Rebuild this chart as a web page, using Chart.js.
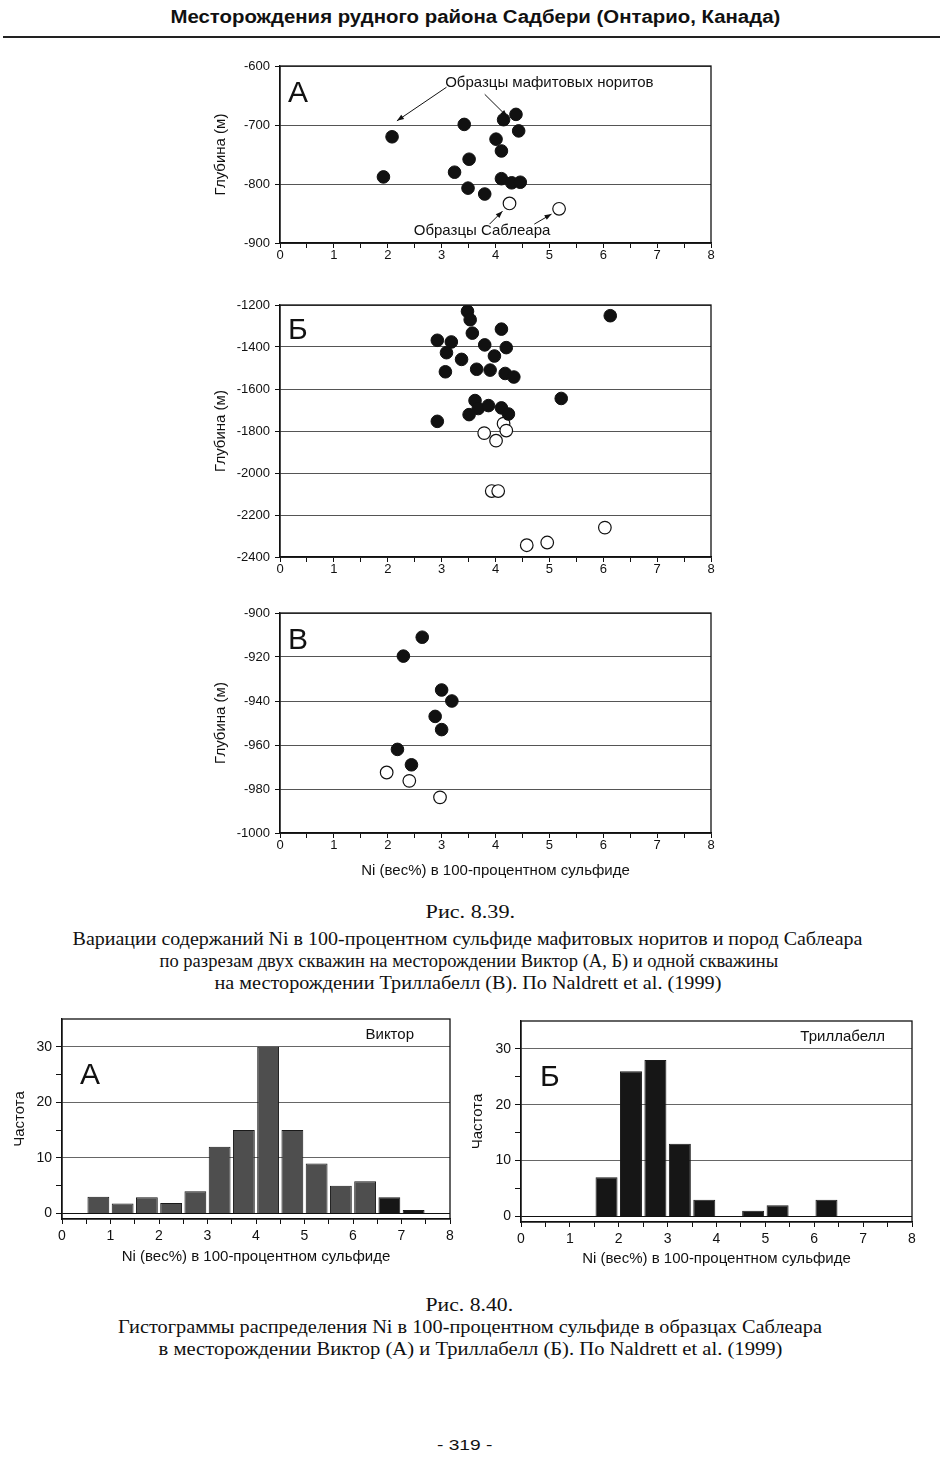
<!DOCTYPE html>
<html>
<head>
<meta charset="utf-8">
<script src="https://cdn.jsdelivr.net/npm/chart.js@4"></script>
<style>
  body { margin: 0; width: 943px; height: 1460px; position: relative; background: #fff; overflow: hidden; }
  canvas { position: absolute; }
  .t { position: absolute; white-space: nowrap; color: #111; transform-origin: center center; line-height: 1.2; }
  .rule { position: absolute; left: 3px; width: 937px; top: 36px; height: 2px; background: #222; }
</style>
</head>
<body>
<div class="rule"></div>
<script>
// Рис. 8.39 А: Виктор, скважина 1 (Ni вес%, глубина м)
const vicA_noritNi = [2.08, 1.92, 3.42, 3.24, 3.51, 3.49, 3.80, 4.01, 4.11, 4.15, 4.38, 4.43, 4.11, 4.30, 4.46];
const vicA_noritDepth = [-720, -788, -699, -780, -758, -807, -817, -724, -744, -691, -682, -710, -791, -798, -797];
const vicA_sablNi = [4.26, 5.18];
const vicA_sablDepth = [-833, -842];

// Рис. 8.39 Б: Виктор, скважина 2
const vicB_noritNi = [3.48, 3.53, 3.57, 6.13, 2.92, 3.18, 3.09, 4.11, 3.80, 4.20, 3.98, 3.37, 3.07, 3.65, 3.90, 4.18, 4.34, 5.22, 3.62, 3.68, 3.87, 4.11, 4.24, 3.51, 2.92];
const vicB_noritDepth = [-1230, -1270, -1334, -1251, -1368, -1376, -1427, -1315, -1390, -1403, -1443, -1459, -1518, -1506, -1510, -1526, -1543, -1645, -1655, -1693, -1679, -1690, -1719, -1722, -1754];
const vicB_sablNi = [4.15, 4.20, 3.79, 4.01, 3.93, 4.05, 6.03, 4.96, 4.58];
const vicB_sablDepth = [-1765, -1798, -1810, -1846, -2086, -2086, -2260, -2331, -2344];

// Рис. 8.39 В: Триллабелл
const tri_noritNi = [2.64, 2.29, 3.00, 3.19, 2.88, 3.00, 2.18, 2.44];
const tri_noritDepth = [-911, -919.6, -935, -940, -947, -953, -962, -969];
const tri_sablNi = [1.98, 2.40, 2.97];
const tri_sablDepth = [-972.5, -976.3, -983.8];

// Рис. 8.40: гистограммы, интервалы по 0.5 вес%
const binCenters = [0.75, 1.25, 1.75, 2.25, 2.75, 3.25, 3.75, 4.25, 4.75, 5.25, 5.75, 6.25, 6.75, 7.25];
const victorFreq = [3, 1.8, 2.9, 1.9, 4, 12, 15, 30, 15, 9, 5, 5.8, 2.9, 0.6];
const trillFreq = [0, 0, 7, 26, 28, 13, 3, 0, 1, 2, 0, 3, 0, 0];

const FONT = '"Liberation Sans", Arial, sans-serif';
const SERIF = '18px "Liberation Serif", "Times New Roman", serif';
Chart.defaults.font.family = FONT;
Chart.defaults.color = '#111';
Chart.defaults.animation = false;
Chart.defaults.plugins.legend.display = false;
Chart.defaults.plugins.tooltip.enabled = false;

const pts = (xs, ys) => xs.map((x, i) => ({ x: x, y: ys[i] }));

// text lines of the page, stretched to the width they have in the scan
function line(text, cx, cy, w, font) {
  const d = document.createElement('div');
  d.className = 't';
  d.textContent = text;
  d.style.font = font;
  d.style.lineHeight = '1.2';
  document.body.appendChild(d);
  const mw = d.offsetWidth, mh = d.offsetHeight;
  d.style.left = (cx - mw / 2) + 'px';
  d.style.top = (cy - mh / 2) + 'px';
  d.style.transform = 'scaleX(' + (w / mw).toFixed(3) + ')';
}

function mkCanvas(plot, pad) {
  const c = document.createElement('canvas');
  const w = plot.r - plot.l + pad.l + pad.r, h = plot.b - plot.t + pad.t + pad.b;
  c.width = w; c.height = h;
  c.style.left = (plot.l - pad.l) + 'px';
  c.style.top = (plot.t - pad.t) + 'px';
  c.style.width = w + 'px';
  c.style.height = h + 'px';
  document.body.appendChild(c);
  return c;
}

function arrow(ctx, x1, y1, x2, y2) {
  ctx.beginPath(); ctx.moveTo(x1, y1); ctx.lineTo(x2, y2); ctx.stroke();
  const a = Math.atan2(y2 - y1, x2 - x1), L = 7, W = 2.6;
  ctx.beginPath();
  ctx.moveTo(x2, y2);
  ctx.lineTo(x2 - L * Math.cos(a) + W * Math.sin(a), y2 - L * Math.sin(a) - W * Math.cos(a));
  ctx.lineTo(x2 - L * Math.cos(a) - W * Math.sin(a), y2 - L * Math.sin(a) + W * Math.cos(a));
  ctx.closePath(); ctx.fill();
}

// frame, panel letter, tag and notes
const panel = {
  id: 'panel',
  beforeDatasetsDraw(chart) {
    const { ctx, chartArea: a } = chart;
    ctx.save();
    ctx.strokeStyle = '#111';
    ctx.lineWidth = 1.3;
    ctx.strokeRect(a.left, a.top, a.right - a.left, a.bottom - a.top);
    ctx.restore();
  },
  afterDatasetsDraw(chart, args, o) {
    const { ctx, chartArea: a, scales } = chart;
    ctx.save();
    ctx.fillStyle = '#111';
    ctx.strokeStyle = '#111';
    ctx.font = '30px ' + FONT;
    ctx.textAlign = 'left';
    ctx.textBaseline = 'alphabetic';
    ctx.fillText(o.letter, a.left + o.lx, a.top + o.ly);
    if (o.tag) {
      ctx.font = '15px ' + FONT;
      ctx.textAlign = 'right';
      ctx.textBaseline = 'middle';
      ctx.fillText(o.tag, a.right - o.tx, a.top + 16);
    }
    (o.notes || []).forEach(n => {
      ctx.font = '15px ' + FONT;
      ctx.textAlign = 'center';
      ctx.textBaseline = 'middle';
      ctx.fillText(n.text, scales.x.getPixelForValue(n.x), scales.y.getPixelForValue(n.y));
    });
    ctx.lineWidth = 1;
    (o.arrows || []).forEach(r => {
      arrow(ctx, scales.x.getPixelForValue(r[0]), scales.y.getPixelForValue(r[1]),
        scales.x.getPixelForValue(r[2]), scales.y.getPixelForValue(r[3]));
    });
    ctx.restore();
  }
};

function xAxis(pad, title, tickFont, tickPad, padBottom) {
  return {
    type: 'linear', min: 0, max: 8, offset: false,
    afterFit: s => { s.height = pad.b; },
    grid: { drawOnChartArea: false, tickLength: 5, tickColor: '#111', offset: false },
    border: { color: '#111', width: 1.3 },
    ticks: {
      stepSize: 0.5, autoSkip: false, maxRotation: 0, padding: tickPad,
      font: { size: tickFont }, color: '#111',
      callback: v => Number.isInteger(v) ? String(v) : ''
    },
    title: title ? { display: true, text: title, font: { size: 15 }, color: '#111', padding: { top: 0, bottom: padBottom } } : { display: false }
  };
}

const NI_TITLE = 'Ni (вес%) в 100-процентном сульфиде';

function scatter(plot, yMin, yMax, yStep, filled, open, opts) {
  const pad = { l: 80, t: 14, r: 20, b: opts.xTitle ? 50 : 30 };
  const c = mkCanvas(plot, pad);
  new Chart(c, {
    type: 'scatter',
    data: {
      datasets: [
        { data: filled, pointRadius: 6.3, backgroundColor: '#111', borderColor: '#111', borderWidth: 1 },
        { data: open, pointRadius: 6.3, backgroundColor: '#fff', borderColor: '#111', borderWidth: 1.2 }
      ]
    },
    options: {
      responsive: false,
      layout: { padding: { left: 0, top: pad.t, right: pad.r, bottom: 0 } },
      plugins: { panel: opts.panel },
      scales: {
        x: xAxis(pad, opts.xTitle, 13, 0, 3),
        y: {
          min: yMin, max: yMax,
          afterFit: s => { s.width = pad.l; },
          grid: { color: '#555', lineWidth: 1, tickLength: 5, tickColor: '#111' },
          border: { color: '#111', width: 1.3 },
          ticks: { stepSize: yStep, padding: 5, font: { size: 13 }, color: '#111', callback: v => String(v) },
          title: { display: true, text: 'Глубина (м)', font: { size: 15 }, color: '#111', padding: { top: 12, bottom: 0 } }
        }
      }
    },
    plugins: [panel]
  });
}

function histogram(plot, padL, freq, colorFn, opts) {
  const pad = { l: padL, t: 14, r: 20, b: 50 };
  const c = mkCanvas(plot, pad);
  new Chart(c, {
    type: 'bar',
    data: {
      datasets: [{
        data: pts(binCenters, freq),
        backgroundColor: colorFn,
        borderColor: '#1a1a1a',
        borderWidth: 1,
        barPercentage: 0.9,
        categoryPercentage: 1
      }]
    },
    options: {
      responsive: false,
      layout: { padding: { left: 0, top: pad.t, right: pad.r, bottom: 0 } },
      plugins: { panel: opts.panel },
      scales: {
        x: xAxis(pad, NI_TITLE, 14, 4, opts.titleBottom),
        y: {
          min: -1, max: 35,
          afterFit: s => { s.width = pad.l; },
          afterBuildTicks: s => { s.ticks = [0, 5, 10, 15, 20, 25, 30, 35].map(v => ({ value: v })); },
          grid: {
            tickLength: 6, tickColor: ctx => ctx.tick && ctx.tick.value === 35 ? 'rgba(0,0,0,0)' : '#111',
            color: ctx => {
              const v = ctx.tick ? ctx.tick.value : -1;
              if (v === 0) return '#111';
              if (v === 10 || v === 20 || v === 30) return '#666';
              return 'rgba(0,0,0,0)';
            }
          },
          border: { color: '#111', width: 1.3 },
          ticks: { padding: 4, font: { size: 14 }, color: '#111', callback: v => (v % 10 === 0 && v <= 30) ? String(v) : '' },
          title: { display: true, text: 'Частота', font: { size: 15 }, color: '#111', padding: { top: opts.titleTop, bottom: 0 } }
        }
      }
    },
    plugins: [panel]
  });
}

// header
line('Месторождения рудного района Садбери (Онтарио, Канада)', 475, 18, 610, 'bold 18px ' + FONT);

// Рис. 8.39
scatter({ l: 280, r: 711, t: 66, b: 243 }, -900, -600, 100,
  pts(vicA_noritNi, vicA_noritDepth), pts(vicA_sablNi, vicA_sablDepth),
  { panel: {
      letter: 'А', lx: 8, ly: 36,
      notes: [
        { text: 'Образцы мафитовых норитов', x: 5.0, y: -629 },
        { text: 'Образцы Саблеара', x: 3.75, y: -880 }
      ],
      arrows: [[3.09, -636, 2.17, -693], [3.8, -648, 4.22, -686], [3.89, -868, 4.13, -846], [4.72, -868, 5.04, -851]]
  } });

scatter({ l: 280, r: 711, t: 305, b: 557 }, -2400, -1200, 200,
  pts(vicB_noritNi, vicB_noritDepth), pts(vicB_sablNi, vicB_sablDepth),
  { panel: { letter: 'Б', lx: 8, ly: 34 } });

scatter({ l: 280, r: 711, t: 613, b: 833 }, -1000, -900, 20,
  pts(tri_noritNi, tri_noritDepth), pts(tri_sablNi, tri_sablDepth),
  { xTitle: NI_TITLE, panel: { letter: 'В', lx: 8, ly: 36 } });

line('Рис. 8.39.', 470, 913, 90, SERIF);
line('Вариации содержаний Ni в 100-процентном сульфиде мафитовых норитов и пород Саблеара', 467, 940, 790, SERIF);
line('по разрезам двух скважин на месторождении Виктор (А, Б) и одной скважины', 469, 962, 619, SERIF);
line('на месторождении Триллабелл (В). По Naldrett et al. (1999)', 468, 984, 507, SERIF);

// Рис. 8.40
histogram({ l: 62, r: 450, t: 1019, b: 1219 }, 62, victorFreq,
  ctx => (ctx.raw && ctx.raw.x > 6.5) ? '#161616' : '#4e4e4e',
  { titleTop: 11, titleBottom: 3, panel: { letter: 'А', lx: 18, ly: 65, tag: 'Виктор', tx: 36 } });

histogram({ l: 521, r: 912, t: 1021, b: 1222 }, 60, trillFreq,
  () => '#161616',
  { titleTop: 8, titleBottom: 4, panel: { letter: 'Б', lx: 19, ly: 65, tag: 'Триллабелл', tx: 27 } });

line('Рис. 8.40.', 469, 1306, 88, SERIF);
line('Гистограммы распределения Ni в 100-процентном сульфиде в образцах Саблеара', 470, 1328, 704, SERIF);
line('в месторождении Виктор (А) и Триллабелл (Б). По Naldrett et al. (1999)', 470, 1350, 624, SERIF);

line('- 319 -', 464, 1445, 55, '15px ' + FONT);
</script>
</body>
</html>
